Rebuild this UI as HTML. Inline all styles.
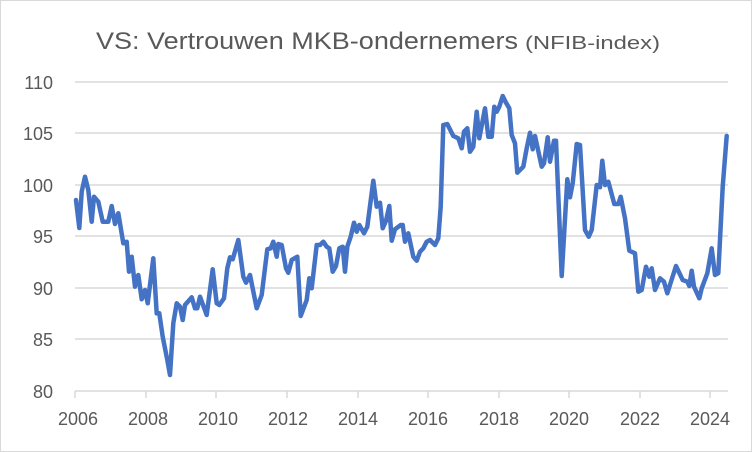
<!DOCTYPE html>
<html><head><meta charset="utf-8"><style>
html,body{margin:0;padding:0;background:#fff}
svg{display:block}
text{font-family:"Liberation Sans",sans-serif;fill:#595959}
</style></head><body>
<svg width="752" height="452" viewBox="0 0 752 452" xmlns="http://www.w3.org/2000/svg">
<rect x="0.5" y="0.5" width="751" height="451" fill="#fff" stroke="#d9d9d9"/>
<text x="96" y="49" font-size="24" textLength="422" lengthAdjust="spacingAndGlyphs">VS: Vertrouwen MKB-ondernemers</text>
<text x="525" y="49" font-size="18" textLength="135" lengthAdjust="spacingAndGlyphs">(NFIB-index)</text>
<g stroke="#d9d9d9" stroke-width="1.5">
<line x1="75" y1="82" x2="728" y2="82"/>
<line x1="75" y1="133" x2="728" y2="133"/>
<line x1="75" y1="185" x2="728" y2="185"/>
<line x1="75" y1="236" x2="728" y2="236"/>
<line x1="75" y1="288" x2="728" y2="288"/>
<line x1="75" y1="339" x2="728" y2="339"/>
<line x1="75" y1="391" x2="728" y2="391"/>
<line x1="75" y1="391" x2="75" y2="398"/>
<line x1="146" y1="391" x2="146" y2="398"/>
<line x1="216" y1="391" x2="216" y2="398"/>
<line x1="287" y1="391" x2="287" y2="398"/>
<line x1="358" y1="391" x2="358" y2="398"/>
<line x1="428" y1="391" x2="428" y2="398"/>
<line x1="499" y1="391" x2="499" y2="398"/>
<line x1="569" y1="391" x2="569" y2="398"/>
<line x1="640" y1="391" x2="640" y2="398"/>
<line x1="710" y1="391" x2="710" y2="398"/>
</g>
<g font-size="18" text-anchor="end">
<text x="53" y="89">110</text>
<text x="53" y="140">105</text>
<text x="53" y="192">100</text>
<text x="53" y="243">95</text>
<text x="53" y="295">90</text>
<text x="53" y="346">85</text>
<text x="53" y="398">80</text>
</g>
<g font-size="18" text-anchor="middle">
<text x="78" y="425">2006</text>
<text x="148" y="425">2008</text>
<text x="218" y="425">2010</text>
<text x="288" y="425">2012</text>
<text x="358" y="425">2014</text>
<text x="428" y="425">2016</text>
<text x="499" y="425">2018</text>
<text x="569" y="425">2020</text>
<text x="640" y="425">2022</text>
<text x="710" y="425">2024</text>
</g>
<polyline fill="none" stroke="#4472C4" stroke-width="4.5" stroke-linejoin="round" stroke-linecap="round" points="
76,200 79.3,228 81.7,191.7 85,176.7 88.3,190 91.7,221.7 94,196.7 98.3,201.7 102.7,221.7 108.3,221.7 111.7,206 115,224 118.3,213.3 123.3,243.3 126.7,241.7 129,271.7 131.7,256.7 135,286.7 138.3,275 141.7,299.3 145,290 147.7,303.3 153.3,258.3 156.7,313.3 159.3,313.3 162.7,336.7 167.3,360 170,375 173.3,323.3 176.7,303.3 180,306.7 182.7,320 185,305 191.7,297.3 195,308.3 197.3,308.3 200,296.7 206.7,315 212.7,269.3 216.7,303.3 219.3,305 224,298.3 227.3,268.3 230,257.3 232.7,259.3 238.3,240 243.3,276.7 246,282.7 250,275 256.7,308.3 261.7,295 267.3,249.3 270.7,248.3 273.3,241.7 276.7,256.7 278.3,244 281.7,245 286,268.3 288.3,272.7 291.7,260 297.3,256.7 300.7,316 306.7,300 309.3,278.3 311.7,288.3 316.7,245 320,245 323.3,241.7 326.7,246.7 329.3,248.3 332.7,271.7 336,266 339.3,248.3 342.7,246.7 345,271.7 347.3,246.7 350.7,236.7 354,222.7 356.7,231.7 359.3,225 364,233.3 367.3,226.7 373.3,180.7 376.7,206.7 380,202.7 382.7,228.3 386,220.7 389.3,206 391.7,240.7 395,229.3 400.7,225 402.7,225 405,241.7 408.3,233.3 413.3,256.7 416.7,260.7 420,251.7 423.3,248.3 426.7,241.7 430,240 435,245 438.3,238.3 440.7,206.7 443.3,125 447.3,124 453.3,136 458.3,138.3 461.7,148.3 464,131.7 467.3,128.3 470,151.7 473.3,146.7 476.7,111.7 479.3,138.3 485,108.3 488.3,136.7 491.7,136.7 494.3,106.7 496.7,111.7 499.3,106.7 502.7,96 506,102.7 509.3,108.3 511.7,135 515,143.3 517.3,172.7 523.3,166.7 526.7,148.3 530,132.7 532.7,149.3 535,136 541.7,166.7 544,163.3 547.7,137.3 550,161.7 554,140.7 556,140.7 561.7,276 567.3,179.3 570,197.3 572.7,183.3 576.7,144 580,145 585,230 588.7,236.7 591.7,230 596.7,185 600,187.3 602.3,160.7 605,185 608.3,181.7 614.3,204 618.3,204 620.7,196.7 625,218.3 629.3,250.7 635,253.3 638.3,291.7 641.7,290 646,266.7 649.3,276.7 651.7,268.3 655,290 660,278.3 664,281.7 667.3,293.3 676,266 682.7,280 687.3,281.7 689.3,286 691.7,270.7 694,286.7 699.3,298.3 701.7,288.3 707.3,273.3 711.7,248.3 715,275 718.3,273.3 722.7,186.7 726.7,136"/>
</svg>
</body></html>
